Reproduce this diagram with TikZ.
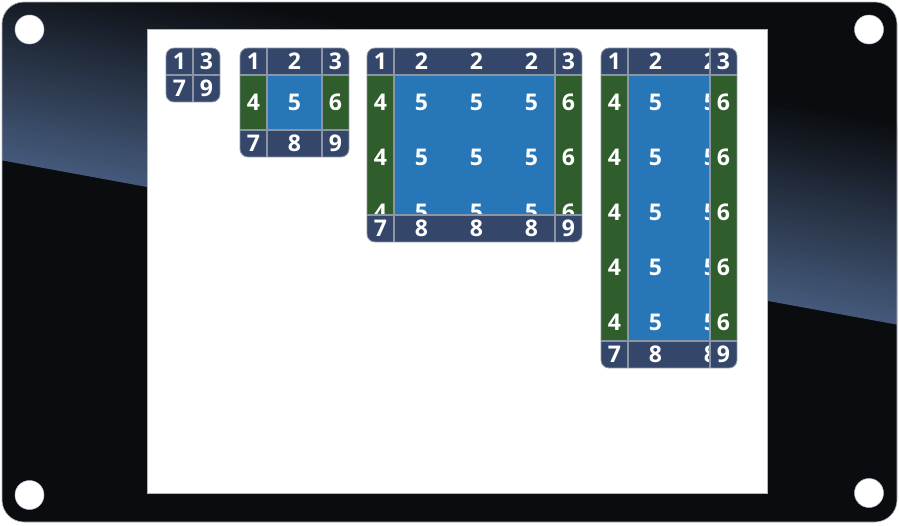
\documentclass[tikz,border=0pt]{standalone}
\usepackage{fontspec}
\newfontfamily\digitfont{Open Sans}
\definecolor{bezel}{HTML}{0A0C0F}
\definecolor{slate}{HTML}{44597A}
\definecolor{navy}{HTML}{34476A}
\definecolor{tgreen}{HTML}{2F5D2C}
\definecolor{tblue}{HTML}{2676B8}
\definecolor{gline}{HTML}{8C95A3}
\tikzset{
  digit/.style={text=white, font=\digitfont\bfseries\fontsize{23}{23}\selectfont, inner sep=0pt, anchor=center},
  sepline/.style={draw=gline, line width=1.6pt},
  frameline/.style={draw=gline, line width=0.8pt, rounded corners=8pt},
  hole/.style={fill=white, draw=gline!60, line width=0.5pt}
}
% #1 id, #2 x0, #3 y0, #4 middle width, #5 middle height, #6 tile columns, #7 tile rows
\newcommand\panel[7]{%
  \pgfmathsetmacro\xa{#2+27}\pgfmathsetmacro\xb{#2+27+#4}\pgfmathsetmacro\xc{#2+54+#4}%
  \pgfmathsetmacro\ya{#3+27}\pgfmathsetmacro\yb{#3+27+#5}\pgfmathsetmacro\yc{#3+54+#5}%
  \begin{scope}
    \clip[rounded corners=8pt] (#2,#3) rectangle (\xc,\yc);
    \fill[navy] (#2,#3) rectangle (\xc,\yc);
    \ifnum#7>0
      \fill[tgreen] (#2,\ya) rectangle (\xa,\yb);
      \fill[tgreen] (\xb,\ya) rectangle (\xc,\yb);
    \fi
    \ifnum#6>0
      \fill[tblue] (\xa,\ya) rectangle (\xb,\yb);
    \fi
  \end{scope}
  \node[digit] (#1-c1) at ({#2+13.5},{#3+13.5}) {1};
  \node[digit] (#1-c3) at ({\xb+13.5},{#3+13.5}) {3};
  \node[digit] (#1-c7) at ({#2+13.5},{\yb+13.5}) {7};
  \node[digit] (#1-c9) at ({\xb+13.5},{\yb+13.5}) {9};
  \ifnum#6>0
    \begin{scope}
      \clip (\xa,#3) rectangle (\xb,\ya);
      \foreach \k in {1,...,#6} {\node[digit] (#1-t\k) at ({\xa+27.5+55*(\k-1)},{#3+13.5}) {2};}
    \end{scope}
    \begin{scope}
      \clip (\xa,\yb) rectangle (\xb,\yc);
      \foreach \k in {1,...,#6} {\node[digit] (#1-b\k) at ({\xa+27.5+55*(\k-1)},{\yb+13.5}) {8};}
    \end{scope}
  \fi
  \ifnum#7>0
    \begin{scope}
      \clip (#2,\ya) rectangle (\xa,\yb);
      \foreach \r in {1,...,#7} {\node[digit] (#1-l\r) at ({#2+13.5},{\ya+27.5+55*(\r-1)}) {4};}
    \end{scope}
    \begin{scope}
      \clip (\xb,\ya) rectangle (\xc,\yb);
      \foreach \r in {1,...,#7} {\node[digit] (#1-r\r) at ({\xb+13.5},{\ya+27.5+55*(\r-1)}) {6};}
    \end{scope}
    \begin{scope}
      \clip (\xa,\ya) rectangle (\xb,\yb);
      \foreach \k in {1,...,#6} {
        \foreach \r in {1,...,#7} {\node[digit] (#1-m\k-\r) at ({\xa+27.5+55*(\k-1)},{\ya+27.5+55*(\r-1)}) {5};}
      }
    \end{scope}
  \fi
  \draw[sepline] (\xa,#3) -- (\xa,\yc) (\xb,#3) -- (\xb,\yc) (#2,\ya) -- (\xc,\ya) (#2,\yb) -- (\xc,\yb);
  \draw[frameline] (#2,#3) rectangle (\xc,\yc);
}
\begin{document}
\begin{tikzpicture}[x=1pt,y=-1pt]
\useasboundingbox (0,0) rectangle (899,525);
% board
\fill[bezel] [rounded corners=22pt] (2,2) rectangle (897,522);
\begin{scope}
  \clip[rounded corners=22pt] (2,2) rectangle (897,522);
  \foreach \i in {0,...,39} {
    \pgfmathtruncatemacro\pp{100-\i*2.5}
    \fill[slate!\pp!bezel] (0,{160-5*\i}) -- (899,{325-5*\i}) -- (899,{325-5*\i-5.6}) -- (0,{160-5*\i-5.6}) -- cycle;
  }
\end{scope}
\draw[draw=gline!70, line width=0.6pt, rounded corners=22pt] (2,2) rectangle (897,522);
% mounting holes
\fill[hole] (29.5,29.5) circle (14.5);
\fill[hole] (869,29.5) circle (14.5);
\fill[hole] (29.5,495) circle (14.5);
\fill[hole] (869,493) circle (14.5);
% screen
\fill[white, draw=gline!70, line width=0.6pt] (147,29) rectangle (767,493);
% panels
\panel{g1}{166}{48}{0}{0}{0}{0}
\panel{g2}{240}{48}{55}{55}{1}{1}
\panel{g3}{367}{48}{161}{140}{3}{3}
\panel{g4}{601}{48}{82}{266}{2}{5}
\end{tikzpicture}
\end{document}
